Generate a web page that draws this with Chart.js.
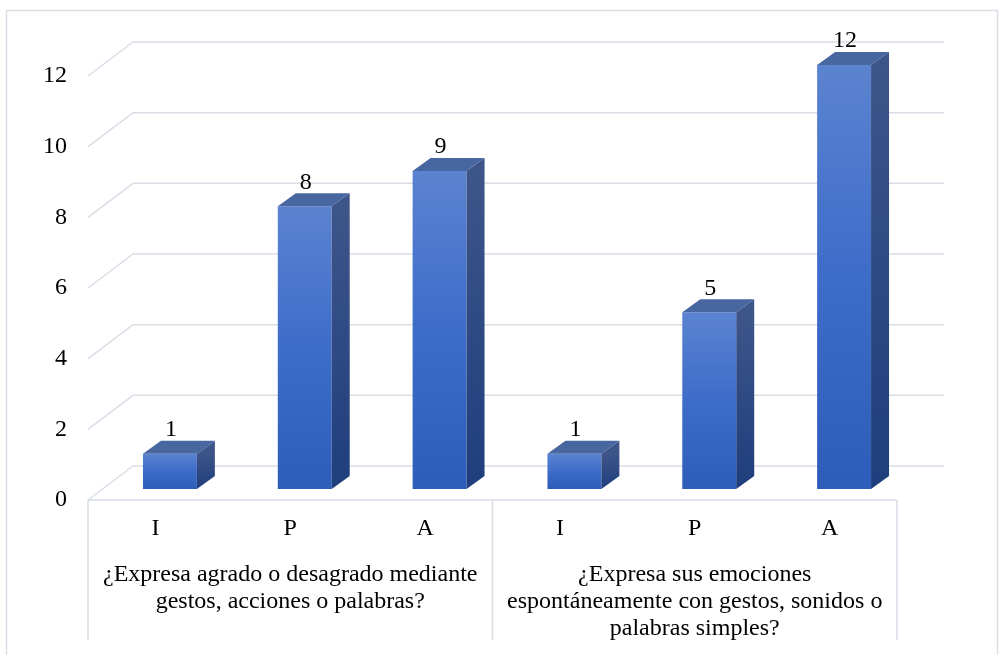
<!DOCTYPE html>
<html>
<head>
<meta charset="utf-8">
<script src="https://cdn.jsdelivr.net/npm/chart.js@4"></script>
<style>
  html, body { margin: 0; padding: 0; background: #fff; }
  #grafico { display: block; }
</style>
</head>
<body>
<canvas id="grafico" width="1004" height="655"></canvas>
<script>
// datos del grafico
const niveles = ['I', 'P', 'A', 'I', 'P', 'A'];
const valores = [1, 8, 9, 1, 5, 12];
const preguntas = [
    ['¿Expresa agrado o desagrado mediante', 'gestos, acciones o palabras?'],
    ['¿Expresa sus emociones', 'espontáneamente con gestos, sonidos o', 'palabras simples?']
];
const ejeMax = 12;
const ejePaso = 2;

const FUENTE = { family: '"Liberation Serif", "Times New Roman", serif', size: 24 };
const GRIS = '#d9dde5';

// profundidad del "3D"
const PARED = { dx: 45, dy: -34 };   // pared del fondo
const BARRA = { dx: 14.5, dy: -11 }; // cara frontal de la barra
const FONDO = { dx: 18, dy: -13 };   // grosor de la barra

const efecto3d = {
    id: 'efecto3d',
    beforeDraw(chart) {
        const ctx = chart.ctx;
        ctx.save();
        ctx.strokeStyle = GRIS;
        ctx.lineWidth = 1.5;
        ctx.strokeRect(6.5, 10.5, 991, 700);
        ctx.restore();
    },
    beforeDatasetsDraw(chart) {
        const ctx = chart.ctx;
        const { x, y } = chart.scales;
        const area = chart.chartArea;
        ctx.save();
        ctx.strokeStyle = GRIS;
        ctx.lineWidth = 1.5;
        // lineas de la pared del fondo y la pared izquierda
        for (let v = 0; v <= ejeMax; v += ejePaso) {
            const yf = y.getPixelForValue(v);
            ctx.beginPath();
            ctx.moveTo(area.left, yf);
            ctx.lineTo(area.left + PARED.dx, yf + PARED.dy);
            ctx.lineTo(area.right + PARED.dx + 2, yf + PARED.dy);
            ctx.stroke();
        }
        // tabla de categorias
        const medio = (x.getPixelForValue(2) + x.getPixelForValue(3)) / 2;
        ctx.beginPath();
        ctx.moveTo(area.left, area.bottom);
        ctx.lineTo(area.right, area.bottom);
        [area.left, medio, area.right].forEach(px => {
            ctx.moveTo(px, area.bottom);
            ctx.lineTo(px, 640);
        });
        ctx.stroke();
        ctx.restore();

        // las barras se dibujan desplazadas hacia el fondo
        ctx.save();
        ctx.translate(BARRA.dx, BARRA.dy);
        // degradado propio de cada barra
        chart.getDatasetMeta(0).data.forEach(el => {
            const g = ctx.createLinearGradient(0, el.y, 0, el.base);
            g.addColorStop(0, '#5b83d0');
            g.addColorStop(0.5, '#3d6cc9');
            g.addColorStop(1, '#2e5db9');
            el.options.backgroundColor = g;
        });
    },
    afterDatasetsDraw(chart) {
        const ctx = chart.ctx;
        const meta = chart.getDatasetMeta(0);
        meta.data.forEach(el => {
            const L = el.x - el.width / 2;
            const R = el.x + el.width / 2;
            const top = el.y;
            const base = el.base;
            // cara superior
            ctx.fillStyle = '#48669f';
            ctx.beginPath();
            ctx.moveTo(L, top);
            ctx.lineTo(R, top);
            ctx.lineTo(R + FONDO.dx, top + FONDO.dy);
            ctx.lineTo(L + FONDO.dx, top + FONDO.dy);
            ctx.closePath();
            ctx.fill();
            // cara lateral
            const g = ctx.createLinearGradient(0, top, 0, base);
            g.addColorStop(0, '#3e5589');
            g.addColorStop(1, '#1f3e7d');
            ctx.fillStyle = g;
            ctx.beginPath();
            ctx.moveTo(R, top);
            ctx.lineTo(R + FONDO.dx, top + FONDO.dy);
            ctx.lineTo(R + FONDO.dx, base + FONDO.dy);
            ctx.lineTo(R, base);
            ctx.closePath();
            ctx.fill();
        });
        ctx.restore();

        // etiquetas de valor
        ctx.save();
        ctx.font = FUENTE.size + 'px ' + FUENTE.family;
        ctx.fillStyle = '#000';
        ctx.textAlign = 'center';
        ctx.textBaseline = 'middle';
        meta.data.forEach((el, i) => {
            ctx.fillText(String(valores[i]), el.x + BARRA.dx + 1, el.y + BARRA.dy + FONDO.dy - 11);
        });
        ctx.restore();
    },
    afterDraw(chart) {
        const ctx = chart.ctx;
        const x = chart.scales.x;
        const area = chart.chartArea;
        const medio = (x.getPixelForValue(2) + x.getPixelForValue(3)) / 2;
        const centros = [(area.left + medio) / 2, (medio + area.right) / 2];
        ctx.save();
        ctx.font = FUENTE.size + 'px ' + FUENTE.family;
        ctx.fillStyle = '#000';
        ctx.textAlign = 'center';
        ctx.textBaseline = 'middle';
        preguntas.forEach((lineas, g) => {
            lineas.forEach((t, k) => {
                ctx.fillText(t, centros[g], 575 + k * 27);
            });
        });
        ctx.restore();
    }
};

new Chart(document.getElementById('grafico'), {
    type: 'bar',
    data: {
        labels: niveles,
        datasets: [{
            data: valores,
            categoryPercentage: 1,
            barPercentage: 0.4,
            borderWidth: 0,
            // funcion para que cada barra tenga sus propias opciones
            backgroundColor: (c) => '#4472c4'
        }]
    },
    options: {
        responsive: false,
        animation: false,
        events: [],
        layout: { padding: { top: 76, right: 107, bottom: 0, left: 0 } },
        plugins: {
            legend: { display: false },
            title: { display: false },
            tooltip: { enabled: false }
        },
        scales: {
            x: {
                grid: { display: false, drawTicks: false },
                border: { display: false },
                ticks: { font: FUENTE, color: '#000', padding: 14, maxRotation: 0 },
                afterFit: (s) => { s.height = 155; }
            },
            y: {
                min: 0,
                max: ejeMax,
                grid: { display: false, drawTicks: false },
                border: { display: false },
                ticks: { stepSize: ejePaso, font: FUENTE, color: '#000', padding: 21 },
                afterFit: (s) => { s.width = 88; }
            }
        }
    },
    plugins: [efecto3d]
});
</script>
</body>
</html>
